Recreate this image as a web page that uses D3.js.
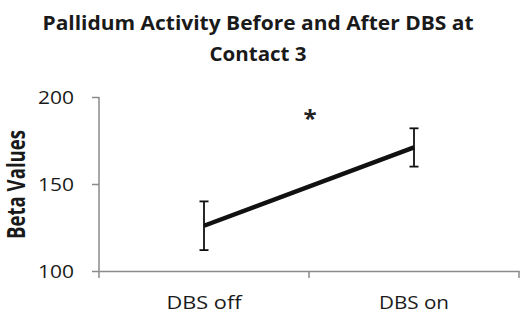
<!DOCTYPE html>
<html><head><meta charset="utf-8">
<script src="https://cdn.jsdelivr.net/npm/d3@7"></script>
<style>body{margin:0;background:#fff;} svg{display:block;}</style>
</head><body>
<svg id="c" width="520" height="312"></svg>
<script>
const categories = ["DBS off", "DBS on"];
const means = [126, 171];
const errors = [14, 11];
const yTicks = [100, 150, 200];
const titleLines = ["Pallidum Activity Before and After DBS at", "Contact 3"];
const yLabel = "Beta Values";
const sigMark = "*";

(function () {
const svg = d3.select("#c");
const font = "'Open Sans', sans-serif";
const mLeft = 99, mRight = 519, mTop = 97, mBottom = 271;
// horizontal stretch of the source image's glyphs
const stretch = (sel, w) => sel.attr("textLength", w).attr("lengthAdjust", "spacingAndGlyphs");

const x = d3.scaleBand().domain(categories).range([mLeft, mRight]).padding(0);
const y = d3.scaleLinear().domain([100, 200]).range([mBottom, mTop]);
const cx = d => x(d) + x.bandwidth() / 2;

// title
const titleW = [431, 97];
svg.append("g").selectAll("text").data(titleLines).join("text")
  .attr("x", 258).attr("y", (d, i) => 30 + i * 30.5)
  .attr("text-anchor", "middle").attr("font-family", font)
  .attr("font-weight", "bold").attr("font-size", 19.5).attr("fill", "#1a1a1a")
  .text(d => d)
  .each(function (d, i) { stretch(d3.select(this), titleW[i]); });

// y axis
const yAxis = svg.append("g").attr("transform", `translate(${mLeft},0)`)
  .call(d3.axisLeft(y).tickValues(yTicks).tickSize(7).tickPadding(18).tickSizeOuter(0));
yAxis.select(".domain").attr("stroke", "#8a8a8a").attr("stroke-width", 1.5)
  .attr("d", `M0,${mTop}V${mBottom + 7}`);
yAxis.selectAll(".tick line").attr("stroke", "#8a8a8a").attr("stroke-width", 1.5);
yAxis.selectAll(".tick text").attr("font-family", font).attr("font-size", 18).attr("fill", "#1a1a1a")
  .attr("font-weight", 500)
  .attr("dy", "0.36em").call(s => stretch(s, 36)).attr("text-anchor", "middle").attr("x", -43);

// x axis
const xAxis = svg.append("g").attr("transform", `translate(0,${mBottom})`)
  .call(d3.axisBottom(x).tickSize(0).tickPadding(0));
xAxis.select(".domain").attr("stroke", "#8a8a8a").attr("stroke-width", 1.5);
const xW = {"DBS off": 75, "DBS on": 70};
xAxis.selectAll(".tick text").attr("font-family", font).attr("font-size", 17.5).attr("fill", "#1a1a1a")
  .attr("font-weight", 500)
  .attr("dy", null).attr("y", 37.5).attr("x", 0)
  .each(function (d) { stretch(d3.select(this), xW[d]); });
const bounds = categories.map(c => x(c) + x.bandwidth());
xAxis.selectAll(".bound").data(bounds).join("line").attr("class", "bound")
  .attr("x1", d => d).attr("x2", d => d).attr("y1", 0).attr("y2", 7)
  .attr("stroke", "#8a8a8a").attr("stroke-width", 1.5);

// y label (glyphs widened horizontally like the source image)
svg.append("text").attr("transform", `translate(25,184.5) rotate(-90) scale(1,1.3)`)
  .attr("text-anchor", "middle").attr("font-family", font).attr("font-weight", "bold")
  .attr("font-size", 18.5).attr("fill", "#1a1a1a").text(yLabel)
  .call(s => stretch(s, 109));

// line
const data = categories.map((c, i) => ({c, m: means[i], e: errors[i]}));
svg.append("path").datum(data)
  .attr("d", d3.line().x(d => cx(d.c)).y(d => y(d.m)))
  .attr("fill", "none").attr("stroke", "#111").attr("stroke-width", 4.5);

// error bars
const eb = svg.append("g").selectAll("g").data(data).join("g");
eb.append("line").attr("x1", d => cx(d.c)).attr("x2", d => cx(d.c))
  .attr("y1", d => y(d.m + d.e)).attr("y2", d => y(d.m - d.e))
  .attr("stroke", "#111").attr("stroke-width", 1.8);
eb.selectAll(".cap").data(d => [d.m + d.e, d.m - d.e].map(v => ({c: d.c, v}))).join("line")
  .attr("class", "cap")
  .attr("x1", d => cx(d.c) - 4.5).attr("x2", d => cx(d.c) + 4.5)
  .attr("y1", d => y(d.v)).attr("y2", d => y(d.v))
  .attr("stroke", "#111").attr("stroke-width", 1.8);

// significance marker
svg.append("text").attr("x", bounds[0] + 1).attr("y", 127)
  .attr("text-anchor", "middle").attr("font-family", font).attr("font-weight", "bold")
  .attr("font-size", 24).attr("fill", "#222").text(sigMark);
})();
</script>
</body></html>
